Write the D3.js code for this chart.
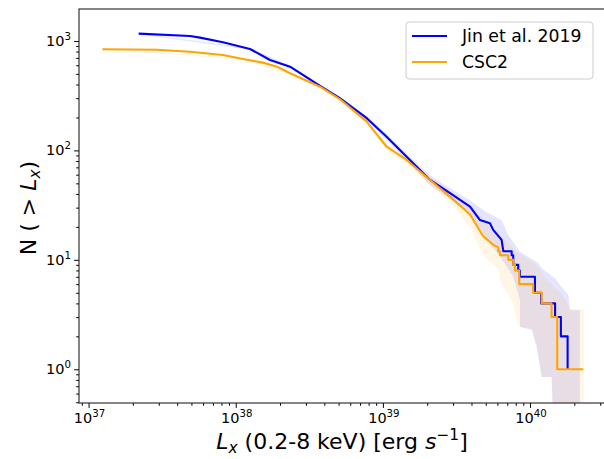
<!DOCTYPE html>
<html><head><meta charset="utf-8">
<script src="https://cdn.jsdelivr.net/npm/d3@7"></script>
<style>body{margin:0;background:#fff}svg{display:block}text{font-family:"DejaVu Sans",sans-serif;fill:#000}</style>
</head><body><svg id="c" width="604" height="459"></svg>
<script>
// ---- data ----
const seriesNames = ["Jin et al. 2019", "CSC2"];
const seriesColors = ["#0000ff", "#ffa500"];

// Jin et al. 2019 cumulative curve: luminosity (erg/s) and N(>L)
const jinL = [2.19e37,4.89e37,5.71e37,8.19e37,1.25e38,1.71e38,2.34e38,3.74e38,5.12e38,7.77e38,1.06e39,1.45e39,2.09e39,2.86e39,3.91e39,4.57e39,5.34e39,5.62e39,6.41e39,6.58e39,7.50e39,7.50e39,7.69e39,7.69e39,8.31e39,8.31e39,8.54e39,8.54e39,1.08e40,1.08e40,1.19e40,1.19e40,1.48e40,1.48e40,1.62e40,1.62e40,1.80e40,1.80e40];
const jinN = [1166,1111,1072,973,845,670,582,388,299,197,133,87.7,53.7,40.6,30.6,23.1,21.6,18.8,15.2,12,12,11,11,9,9,8,8,7,7,5,5,4,4,3,3,2,2,1];

// CSC2 cumulative curve
const cscL = [1.24e37,2.90e37,4.89e37,8.19e37,1.12e38,1.53e38,1.91e38,2.34e38,3.74e38,5.12e38,7.77e38,1.06e39,1.45e39,2.09e39,2.86e39,3.91e39,4.79e39,5.62e39,6.08e39,6.08e39,6.25e39,6.25e39,7.11e39,7.11e39,7.69e39,7.69e39,7.90e39,7.90e39,8.45e39,8.45e39,1.05e40,1.05e40,1.20e40,1.20e40,1.40e40,1.40e40,1.53e40,1.53e40,2.30e40];
const cscN = [840,832,798,745,685,634,582,507,382,293,183,108,81.8,53.7,37.8,26,16.5,13.7,13,12,12,11,11,10,10,9,9,8,8,6,6,5,5,4,4,3,3,1,1];

// uncertainty bands: upper-right edge and lower-left edge
const jinBandHiL = [2.19e37,1.25e38,2.34e38,3.74e38,5.12e38,7.77e38,1.06e39,1.45e39,2.09e39,2.86e39,3.91e39,4.9e39,6.41e39,7.11e39,8.54e39,1.14e40,1.20e40,1.48e40,1.60e40,1.82e40,1.87e40,2.18e40,2.18e40];
const jinBandHiN = [1180,860,596,400,310,206,141,94,59,45,35,28,23.1,16.9,11.9,9.3,8.4,6.8,5.9,4.8,3.5,3.5,0.3];
const jinBandLoL = [2.19e37,1.25e38,2.34e38,3.74e38,5.12e38,7.77e38,1.06e39,1.45e39,2.09e39,2.86e39,3.91e39,5.0e39,6.25e39,7.69e39,8.54e39,8.54e39,1.03e40,1.11e40,1.20e40,1.40e40,1.44e40];
const jinBandLoN = [1152,830,568,376,288,188,125,81,48,36,26,16,10.7,7.0,4.3,2.45,2.3,1.6,0.85,0.85,0.3];

const cscBandHiL = [1.24e37,1.12e38,2.34e38,3.74e38,5.12e38,7.77e38,1.06e39,1.45e39,2.09e39,2.86e39,3.91e39,5.0e39,6.0e39,7.0e39,8.0e39,1.1e40,1.25e40,1.4e40,1.65e40,1.8e40,1.85e40,2.33e40,2.33e40];
const cscBandHiN = [850,697,520,394,303,193,115,88,59,43,31,22,18,14.5,12,9,7,6,4.8,4,3.5,3.5,0.3];
const cscBandLoL = [1.24e37,1.12e38,2.34e38,3.74e38,5.12e38,7.77e38,1.06e39,1.45e39,2.09e39,2.86e39,3.91e39,4.82e39,6.10e39,6.25e39,7.69e39,8.31e39,1.03e40,1.11e40,1.20e40,1.40e40,1.44e40];
const cscBandLoN = [830,673,494,370,283,173,101,75,48,33,20,11,8.1,6.5,4.0,2.45,2.3,1.6,0.85,0.85,0.3];

const xTickExp = [37,38,39,40];
const yTickExp = [0,1,2,3];

// ---- layout ----
const svg = d3.select("#c");
const L = 79, R = 607, T = 9, B = 403;
const x = d3.scaleLog().domain([Math.pow(10,36.935), Math.pow(10,40.523)]).range([L,R]);
const y = d3.scaleLog().domain([Math.pow(10,-0.308), Math.pow(10,3.292)]).range([B,T]);

svg.append("defs").append("clipPath").attr("id","clip")
  .append("rect").attr("x",L).attr("y",T).attr("width",R-L).attr("height",B-T);

const plot = svg.append("g").attr("clip-path","url(#clip)");
const line = d3.line().x(d=>x(d[0])).y(d=>y(d[1]));
const zip = (a,b)=>a.map((v,i)=>[v,b[i]]);

function band(hiL,hiN,loL,loN,color){
  const pts = zip(hiL,hiN).concat(zip(loL,loN).reverse());
  plot.append("path").attr("d", line(pts)+"Z").attr("fill",color).attr("fill-opacity",0.1).attr("stroke","none");
}
band(jinBandHiL,jinBandHiN,jinBandLoL,jinBandLoN,seriesColors[0]);
band(cscBandHiL,cscBandHiN,cscBandLoL,cscBandLoN,seriesColors[1]);

plot.append("path").attr("d",line(zip(jinL,jinN))).attr("fill","none").attr("stroke",seriesColors[0]).attr("stroke-width",2.1).attr("stroke-linejoin","round");
plot.append("path").attr("d",line(zip(cscL,cscN))).attr("fill","none").attr("stroke",seriesColors[1]).attr("stroke-width",2.1).attr("stroke-linejoin","round");

// ---- axes ----
function minors(lo,hi){const a=[];for(let e=lo;e<=hi;e++)for(let m=2;m<=9;m++)a.push(m*Math.pow(10,e));return a;}
const xMaj = xTickExp.map(e=>Math.pow(10,e));
const yMaj = yTickExp.map(e=>Math.pow(10,e));
const xMin = minors(36,40).filter(v=>v>x.domain()[0]&&v<x.domain()[1]);
const yMin = minors(-1,3).filter(v=>v>y.domain()[0]&&v<y.domain()[1]);

const gx = svg.append("g").attr("transform",`translate(0,${B})`);
gx.call(d3.axisBottom(x).tickValues(xMaj).tickSize(4.9).tickFormat(""));
gx.call(g=>g.append("g").call(d3.axisBottom(x).tickValues(xMin).tickSize(2.8).tickFormat("")));
const gy = svg.append("g").attr("transform",`translate(${L},0)`);
gy.call(d3.axisLeft(y).tickValues(yMaj).tickSize(4.9).tickFormat(""));
gy.call(g=>g.append("g").call(d3.axisLeft(y).tickValues(yMin).tickSize(2.8).tickFormat("")));
svg.selectAll(".domain").remove();
svg.selectAll(".tick line").attr("stroke","#000").attr("stroke-width",1);

// frame
svg.append("rect").attr("x",L).attr("y",T).attr("width",R-L).attr("height",B-T)
  .attr("fill","none").attr("stroke","#222").attr("stroke-width",1.1);

// tick labels with superscripts
xTickExp.forEach(e=>{
  const t = svg.append("text").attr("x",x(Math.pow(10,e))+1).attr("y",B+20).attr("text-anchor","middle").attr("font-size",14.5);
  t.append("tspan").text("10");
  t.append("tspan").attr("dy",-6).attr("font-size",10.2).text(e);
});
yTickExp.forEach(e=>{
  const t = svg.append("text").attr("x",L-8).attr("y",y(Math.pow(10,e))+5).attr("text-anchor","end").attr("font-size",14.5);
  t.append("tspan").text("10");
  t.append("tspan").attr("dy",-6).attr("font-size",10.2).text(e);
});

// axis labels
const xl = svg.append("text").attr("x",342).attr("y",449).attr("text-anchor","middle").attr("font-size",22);
xl.append("tspan").attr("font-style","italic").text("L");
xl.append("tspan").attr("font-style","italic").attr("font-size",15.4).attr("dy",4).text("x");
xl.append("tspan").attr("dy",-4).text(" (0.2-8 keV) [erg ");
xl.append("tspan").attr("font-style","italic").text("s");
xl.append("tspan").attr("font-size",15.4).attr("dy",-9).text("\u22121");
xl.append("tspan").attr("dy",9).text("]");

const yl = svg.append("text").attr("transform",`translate(36,${(T+B)/2+2}) rotate(-90)`).attr("text-anchor","middle").attr("font-size",22);
yl.append("tspan").text("N ( > ");
yl.append("tspan").attr("font-style","italic").text("L");
yl.append("tspan").attr("font-style","italic").attr("font-size",15.4).attr("dy",4).text("x");
yl.append("tspan").attr("dy",-4).text(")");

// legend
const lg = svg.append("g");
lg.append("rect").attr("x",406).attr("y",22).attr("width",187).attr("height",57).attr("rx",3.5)
  .attr("fill","#fff").attr("fill-opacity",0.8).attr("stroke","#cccccc").attr("stroke-width",1);
seriesNames.forEach((n,i)=>{
  const yy = 36 + i*26;
  lg.append("line").attr("x1",412).attr("x2",447).attr("y1",yy).attr("y2",yy).attr("stroke",seriesColors[i]).attr("stroke-width",2.1);
  lg.append("text").attr("x",462).attr("y",yy+6).attr("font-size",17.3).text(n);
});
</script></body></html>
